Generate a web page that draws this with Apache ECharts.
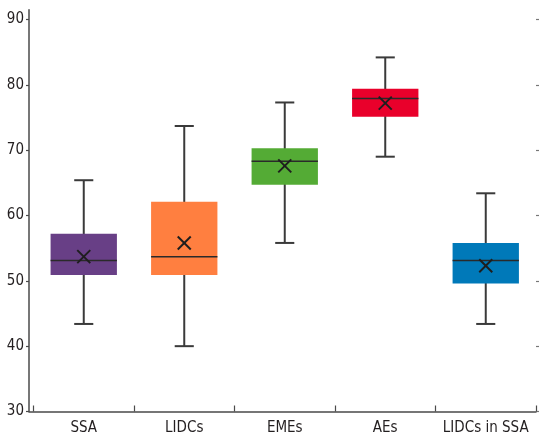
<!DOCTYPE html>
<html><head><meta charset="utf-8">
<script src="https://cdn.jsdelivr.net/npm/echarts@6/dist/echarts.min.js"></script>
<style>html,body{margin:0;padding:0;background:#fff}#c{width:539px;height:437px}</style>
</head><body><div id="c"></div>
<script>
const categories = ['SSA', 'LIDCs', 'EMEs', 'AEs', 'LIDCs in SSA'];
const lowValues = [43.4, 40.0, 55.8, 69.0, 43.4];
const q1Values = [50.9, 50.9, 64.7, 75.1, 49.6];
const medianValues = [53.1, 53.7, 68.3, 77.9, 53.1];
const q3Values = [57.2, 62.1, 70.3, 79.4, 55.8];
const highValues = [65.4, 73.7, 77.3, 84.2, 63.4];
const meanValues = [53.7, 55.8, 67.6, 77.2, 52.3];
const yTicks = [30, 40, 50, 60, 70, 80, 90];
const colors = ['#683f86', '#ff7f40', '#54ab35', '#e9002b', '#0079b9'];

const FONT = "'Liberation Sans Narrow', 'DejaVu Sans Condensed', 'Roboto Condensed', sans-serif";
const AXIS = '#4a4a4a';

const data = categories.map((c, i) => [i, lowValues[i], q1Values[i], medianValues[i], q3Values[i], highValues[i], meanValues[i]]);

function renderItem(params, api) {
  const i = api.value(0);
  const pLow = api.coord([i, api.value(1)]);
  const pQ1 = api.coord([i, api.value(2)]);
  const pMed = api.coord([i, api.value(3)]);
  const pQ3 = api.coord([i, api.value(4)]);
  const pHigh = api.coord([i, api.value(5)]);
  const pMean = api.coord([i, api.value(6)]);
  const bw = api.size([1, 0])[0];
  const boxW = bw * 0.66, capW = bw * 0.19;
  const x = pMed[0];
  const ls = { stroke: '#3a3a3a', lineWidth: 2 };
  const m = 6.5;
  return {
    type: 'group',
    children: [
      { type: 'line', shape: { x1: x, y1: pHigh[1], x2: x, y2: pLow[1] }, style: ls },
      { type: 'line', shape: { x1: x - capW / 2, y1: pHigh[1], x2: x + capW / 2, y2: pHigh[1] }, style: ls },
      { type: 'line', shape: { x1: x - capW / 2, y1: pLow[1], x2: x + capW / 2, y2: pLow[1] }, style: ls },
      { type: 'rect', shape: { x: x - boxW / 2, y: pQ3[1], width: boxW, height: pQ1[1] - pQ3[1] }, style: { fill: colors[params.dataIndex] } },
      { type: 'line', shape: { x1: x - boxW / 2, y1: pMed[1], x2: x + boxW / 2, y2: pMed[1] }, style: { stroke: '#2a2a2a', lineWidth: 1.5 } },
      { type: 'line', shape: { x1: pMean[0] - m, y1: pMean[1] - m, x2: pMean[0] + m, y2: pMean[1] + m }, style: { stroke: '#1e1e1e', lineWidth: 2 } },
      { type: 'line', shape: { x1: pMean[0] - m, y1: pMean[1] + m, x2: pMean[0] + m, y2: pMean[1] - m }, style: { stroke: '#1e1e1e', lineWidth: 2 } }
    ]
  };
}

const chart = echarts.init(document.getElementById('c'), null, { renderer: 'canvas' });
chart.setOption({
  animation: false,
  backgroundColor: '#ffffff',
  grid: [
    { left: 33.5, right: 3, top: 9.7, bottom: 25.5 },
    { left: 29, right: 3, bottom: 25.5, height: 0 }
  ],
  xAxis: [
    {
      type: 'category', data: categories, gridIndex: 0,
      axisLine: { show: false },
      axisTick: { show: true, inside: true, length: 6, lineStyle: { color: AXIS, width: 1.2 } },
      axisLabel: { color: '#231f20', fontFamily: FONT, fontSize: 15, margin: 9, interval: 0 },
      splitLine: { show: false }
    },
    {
      type: 'value', gridIndex: 1, min: 0, max: 1,
      axisLine: { show: true, lineStyle: { color: AXIS, width: 1.5 } },
      axisTick: { show: false }, axisLabel: { show: false }, splitLine: { show: false }
    }
  ],
  yAxis: [
    {
      type: 'value', gridIndex: 0, min: 30, max: 91.5, interval: 10, offset: 4.5,
      axisLine: { show: true, lineStyle: { color: AXIS, width: 1.5 } },
      axisTick: { show: true, length: 3, customValues: yTicks, lineStyle: { color: AXIS, width: 1.2 } },
      axisLabel: { customValues: yTicks, color: '#231f20', fontFamily: FONT, fontSize: 15, margin: 5 },
      splitLine: { show: false }
    },
    {
      type: 'value', gridIndex: 0, position: 'right', min: 30, max: 91.5, interval: 10,
      axisLine: { show: false },
      axisTick: { show: true, length: 3, customValues: yTicks, lineStyle: { color: '#777', width: 1.2 } },
      axisLabel: { show: false },
      splitLine: { show: false }
    },
    {
      type: 'value', gridIndex: 1, show: false
    }
  ],
  series: [{
    type: 'custom',
    xAxisIndex: 0, yAxisIndex: 0,
    renderItem: renderItem,
    encode: { x: 0, y: [1, 2, 3, 4, 5, 6] },
    data: data
  }]
});
</script></body></html>
